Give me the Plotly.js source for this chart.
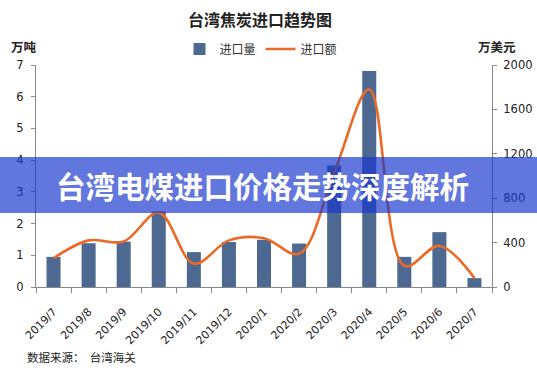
<!DOCTYPE html>
<html>
<head>
<meta charset="utf-8">
<script src="https://cdn.plot.ly/plotly-3.0.1.min.js"></script>
<style>html,body{margin:0;padding:0;background:#fff;}#chart{width:537px;height:372px;}</style>
</head>
<body>
<div id="chart"></div>
<script>
const months = ["2019/7","2019/8","2019/9","2019/10","2019/11","2019/12","2020/1","2020/2","2020/3","2020/4","2020/5","2020/6","2020/7"];
const importVolume = [0.95, 1.38, 1.43, 2.38, 1.10, 1.42, 1.49, 1.37, 3.83, 6.81, 0.95, 1.73, 0.28]; // 万吨
const importValue = [260, 420, 410, 670, 210, 420, 440, 300, 1030, 1780, 190, 370, 80]; // 万美元
const leftTicks = [0,1,2,3,4,5,6,7];
const rightTicks = [0,400,800,1200,1600,2000];

const FONT = '"Noto Sans CJK SC", "Microsoft YaHei", sans-serif';
const TICKFONT = 'Tahoma, "DejaVu Sans", "Noto Sans", sans-serif';
const W = 537, H = 372, L = 36, R = 45, T = 65, B = 85;
const pw = W - L - R, ph = H - T - B;
const px = x => (x - L) / pw;
const py = y => (H - B - y) / ph;

const traces = [
  {type:'bar', name:'进口量', x:months, y:importVolume, marker:{color:'#4e6991'}, yaxis:'y'},
  {type:'scatter', mode:'lines', name:'进口额', x:months, y:importValue, yaxis:'y2',
   line:{color:'#eb6a27', width:2.6, shape:'spline', smoothing:1}}
];

const layout = {
  width:W, height:H,
  margin:{l:L, r:R, t:T, b:B},
  paper_bgcolor:'#fff', plot_bgcolor:'rgba(0,0,0,0)',
  font:{family:FONT, size:11, color:'#333'},
  bargap:0.6,
  showlegend:true,
  title:{text:'<b>台湾焦炭进口趋势图</b>', x:260/W, xanchor:'center', y:1-20/H, yanchor:'middle', font:{size:16, color:'#222', family:FONT}},
  legend:{orientation:'h', x:px(261), xanchor:'center', y:py(49), yanchor:'middle', font:{size:12, color:'#333'}, bgcolor:'rgba(0,0,0,0)', traceorder:'normal'},
  xaxis:{type:'category', tickson:'boundaries', ticks:'outside', ticklen:5, tickcolor:'#888', showline:true, linecolor:'#888', linewidth:1,
         tickangle:-45, ticklabelstandoff:13, tickfont:{size:11, color:'#222', family:TICKFONT}, showgrid:false, zeroline:false},
  yaxis:{range:[0,7], tickvals:leftTicks, ticks:'outside', ticklen:4, tickcolor:'#888', showline:true, linecolor:'#888',
         ticklabelstandoff:5, showgrid:false, zeroline:false, tickfont:{size:11.5, color:'#222', family:TICKFONT}},
  yaxis2:{range:[0,2000], tickvals:rightTicks, overlaying:'y', side:'right', ticks:'outside', ticklen:4, tickcolor:'#888',
          ticklabelstandoff:4, showline:true, linecolor:'#888', showgrid:false, zeroline:false, tickfont:{size:11.5, color:'#222', family:TICKFONT}},
  shapes:[
    {type:'rect', xref:'paper', yref:'paper', x0:px(0), x1:px(W), y0:py(213), y1:py(157), fillcolor:'rgba(24,55,205,0.68)', line:{width:0}, layer:'above'}
  ],
  annotations:[
    {text:'<b>万吨</b>', xref:'paper', yref:'paper', x:px(24), y:py(47), xanchor:'center', yanchor:'middle', showarrow:false, font:{size:12.5, color:'#222'}},
    {text:'<b>万美元</b>', xref:'paper', yref:'paper', x:px(497), y:py(47), xanchor:'center', yanchor:'middle', showarrow:false, font:{size:12.5, color:'#222'}},
    {text:'数据来源：  台湾海关', xref:'paper', yref:'paper', x:px(25), y:py(357), xanchor:'left', yanchor:'middle', showarrow:false, font:{size:11.5, color:'#222'}},
    {text:'<b>台湾电煤进口价格走势深度解析</b>', xref:'paper', yref:'paper', x:px(262), y:py(185), xanchor:'center', yanchor:'middle', showarrow:false, font:{size:29.5, color:'#ffffff', family:FONT}}
  ]
};

Plotly.newPlot('chart', traces, layout, {displayModeBar:false, staticPlot:true});
</script>
</body>
</html>
